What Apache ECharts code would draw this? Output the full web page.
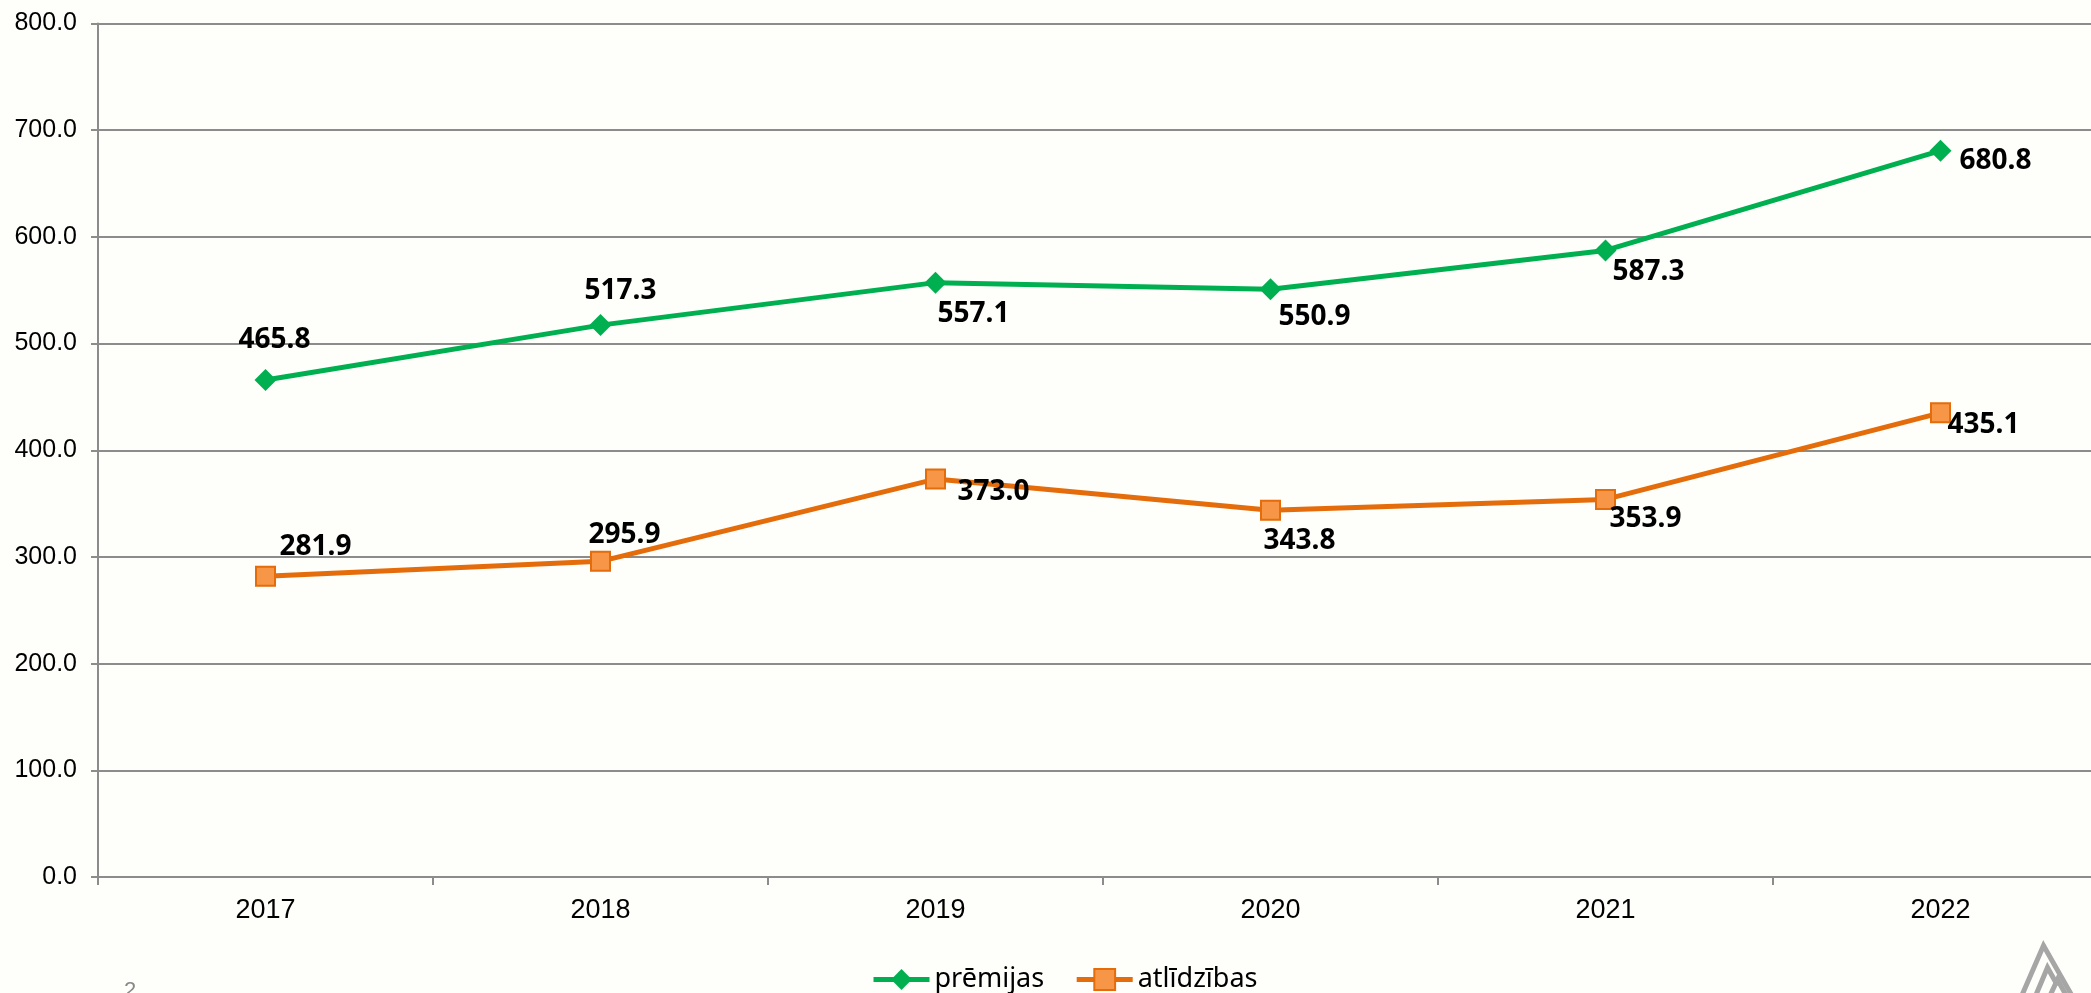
<!DOCTYPE html>
<html>
<head>
<meta charset="utf-8">
<script src="https://cdn.jsdelivr.net/npm/echarts@6/dist/echarts.min.js"></script>
<style>
html, body { margin: 0; padding: 0; background: #FEFEFA; overflow: hidden; }
#main { width: 2108px; height: 993px; }
</style>
</head>
<body>
<div id="main"></div>
<script>
// dati
var years = ['2017', '2018', '2019', '2020', '2021', '2022'];
var premijas = [465.8, 517.3, 557.1, 550.9, 587.3, 680.8];
var atlidzibas = [281.9, 295.9, 373.0, 343.8, 353.9, 435.1];

// etiķešu nobīdes (px) attiecībā pret punktu
var premOffsets = [[9, -40], [20, -34], [38, 31], [44, 28], [43, 22], [55, 10]];
var atlOffsets = [[50, -29], [24, -26], [58, 13], [29, 31], [40, 20], [43, 12]];

// the plot runs a little past the right edge of the window, so the chart div is wider than 2091
var myChart = echarts.init(document.getElementById('main'));

function withLabels(values, offsets) {
    return values.map(function (v, i) {
        return { value: v, label: { offset: offsets[i] } };
    });
}

var labelStyle = {
    show: true,
    position: 'inside',
    fontFamily: 'Noto Sans',
    fontWeight: 'bold',
    fontSize: 28,
    color: '#000',
    formatter: function (p) { return p.value.toFixed(1); }
};

var option = {
    backgroundColor: '#FEFEFA',
    animation: false,
    grid: { left: 98, right: 0, top: 23.5, bottom: 116 },
    legend: {
        top: 961,
        left: 866,
        itemWidth: 56,
        itemHeight: 26,
        itemGap: 30,
        lineStyle: { width: 5 },
        textStyle: { fontFamily: 'Noto Sans', fontSize: 27, color: '#000' },
        data: ['prēmijas', 'atlīdzības']
    },
    xAxis: {
        type: 'category',
        data: years,
        boundaryGap: true,
        axisLine: { lineStyle: { color: '#8C8C8C', width: 2 } },
        axisTick: { show: true, length: 8, lineStyle: { color: '#8C8C8C', width: 2 } },
        axisLabel: { margin: 20, fontFamily: 'Liberation Sans', fontSize: 27, color: '#000' }
    },
    yAxis: {
        type: 'value',
        min: 0,
        max: 800,
        interval: 100,
        axisLine: { show: true, lineStyle: { color: '#8C8C8C', width: 2 } },
        axisTick: { show: true, length: 7, lineStyle: { color: '#8C8C8C', width: 2 } },
        splitLine: { lineStyle: { color: '#8C8C8C', width: 2 } },
        axisLabel: {
            margin: 21,
            fontFamily: 'Liberation Sans',
            fontSize: 25,
            color: '#000',
            formatter: function (v) { return v.toFixed(1); }
        }
    },
    series: [
        {
            name: 'prēmijas',
            type: 'line',
            data: withLabels(premijas, premOffsets),
            symbol: 'diamond',
            symbolSize: 22,
            lineStyle: { color: '#00B050', width: 5 },
            itemStyle: { color: '#00B050' },
            label: labelStyle,
            z: 3
        },
        {
            name: 'atlīdzības',
            type: 'line',
            data: withLabels(atlidzibas, atlOffsets),
            symbol: 'rect',
            symbolSize: 19,
            lineStyle: { color: '#E46C0A', width: 5 },
            itemStyle: { color: '#F79646', borderColor: '#E46C0A', borderWidth: 2 },
            label: labelStyle,
            z: 3
        }
    ],
    graphic: [
        {
            type: 'text',
            left: 124,
            top: 980,
            style: { text: '2', fontFamily: 'Liberation Sans', fontSize: 22, fill: '#888' }
        },
        {
            type: 'group',
            left: 2015,
            top: 943,
            children: [
                { type: 'polyline', shape: { points: [[0, 60], [26, 0], [60, 60]] }, style: { stroke: '#A6A6A6', lineWidth: 5, fill: null } },
                { type: 'polyline', shape: { points: [[14, 60], [30, 22], [40, 40]] }, style: { stroke: '#A6A6A6', lineWidth: 5, fill: null } },
                { type: 'polyline', shape: { points: [[28, 60], [40, 34], [52, 56]] }, style: { stroke: '#A6A6A6', lineWidth: 5, fill: null } }
            ]
        }
    ]
};

myChart.setOption(option);
</script>
</body>
</html>
